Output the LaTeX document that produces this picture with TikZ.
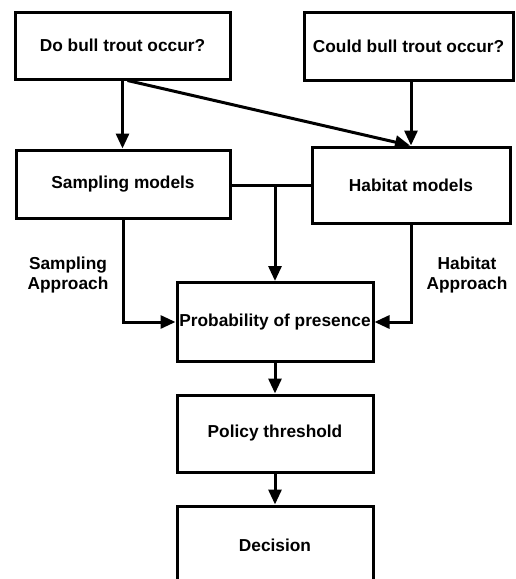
\documentclass[tikz,border=0pt]{standalone}
\usepackage{fontspec}
\setmainfont{Liberation Sans}
\usetikzlibrary{arrows.meta}
\begin{document}
\begin{tikzpicture}[x=1pt,y=-1pt,
  box/.style={draw=black, line width=3pt, inner sep=0pt, font=\fontsize{17.3}{21}\selectfont\bfseries, fill=white},
  lbl/.style={font=\fontsize{17.3}{20}\selectfont\bfseries, align=center, inner sep=0pt},
  conn/.style={line width=3pt},
  arr/.style={conn, -{Triangle[width=13pt,length=15pt]}}]
\useasboundingbox (0,0) rectangle (515,579);
\node[box, minimum width=215pt, minimum height=67pt] (b1) at (122.5,45.5) {\raisebox{-4pt}{Do bull trout occur?}};
\node[box, minimum width=209pt, minimum height=68pt] (b2) at (408.5,46) {\raisebox{-4pt}{Could bull trout occur?}};
\node[box, minimum width=214pt, minimum height=68pt] (samp) at (123,184) {Sampling models};
\node[box, minimum width=198pt, minimum height=76pt] (hab) at (411,185) {Habitat models};
\node[box, minimum width=196pt, minimum height=79pt] (prob) at (275,322) {Probability of presence};
\node[box, minimum width=196pt, minimum height=77pt] (pol) at (275,433.5) {Policy threshold};
\node[box, minimum width=196pt, minimum height=78pt] (dec) at (275,545) {Decision};
\node[lbl] (sa) at (68,275) {Sampling\\Approach};
\node[lbl] (ha) at (467,275) {Habitat\\Approach};
\coordinate (j) at (275,185);
\draw[arr] (b1.south) -- (b1.south |- samp.north);
\draw[arr] ([xshift=5pt]b1.south) -- ([xshift=-1pt]hab.north);
\draw[arr] (hab.north |- b2.south) -- (hab.north);
\draw[conn] (samp.east |- j) -- (hab.west |- j);
\draw[arr] (j) -- (prob.north);
\draw[arr] (samp.south) |- (prob.west);
\draw[arr] (hab.south) |- (prob.east);
\draw[arr] (prob.south) -- (pol.north);
\draw[arr] (pol.south) -- (dec.north);
\end{tikzpicture}
\end{document}
